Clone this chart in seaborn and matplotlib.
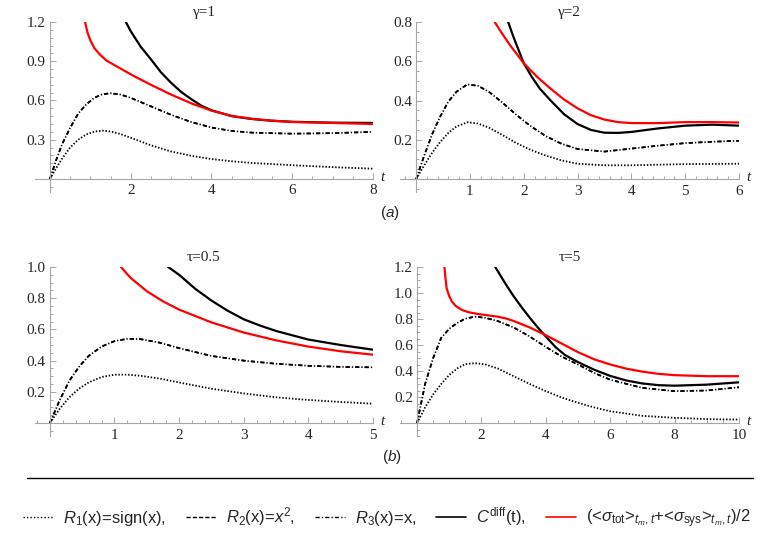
import matplotlib
matplotlib.use("Agg")
import matplotlib.pyplot as plt
import seaborn as sns
from matplotlib.lines import Line2D
from matplotlib.ticker import MultipleLocator

# ---- panel (a) gamma=1 ----
g1_t = [0, 0.15, 0.3, 0.5, 0.7, 0.9, 1.1, 1.3, 1.5, 1.75, 2, 2.5, 3, 3.5, 4, 4.5, 5, 6, 7, 8]
g1_r1 = [0, 0.08, 0.155, 0.24, 0.3, 0.34, 0.362, 0.369, 0.363, 0.343, 0.315, 0.257, 0.21,
         0.177, 0.152, 0.135, 0.122, 0.105, 0.09, 0.078]
g1_r2 = [0, 0.14, 0.265, 0.39, 0.5, 0.57, 0.62, 0.648, 0.655, 0.645, 0.62, 0.555, 0.49,
         0.435, 0.393, 0.367, 0.354, 0.346, 0.35, 0.36]
g1_r3 = [0, 0.14, 0.265, 0.39, 0.5, 0.57, 0.62, 0.648, 0.655, 0.645, 0.62, 0.555, 0.49,
         0.435, 0.393, 0.367, 0.354, 0.346, 0.35, 0.36]
g1_tc = [1.88, 2, 2.25, 2.5, 2.75, 3, 3.25, 3.5, 3.75, 4, 4.5, 5, 5.5, 6, 7, 8]
g1_cdiff = [1.2, 1.13, 1.01, 0.915, 0.815, 0.735, 0.665, 0.61, 0.56, 0.525, 0.48, 0.458,
            0.445, 0.437, 0.43, 0.428]
g1_ts = [0.87, 0.93, 1.0, 1.1, 1.24, 1.4, 1.6, 1.8, 2.06, 2.5, 3, 3.5, 4, 4.5, 5, 5.5, 6, 7, 8]
g1_sig = [1.2, 1.12, 1.06, 1.0, 0.95, 0.905, 0.87, 0.835, 0.79, 0.72, 0.645, 0.578, 0.522,
          0.482, 0.46, 0.445, 0.435, 0.428, 0.42]

# ---- panel (a) gamma=2 ----
g2_t = [0, 0.15, 0.3, 0.45, 0.6, 0.75, 0.95, 1.15, 1.35, 1.6, 1.85, 2.1, 2.4, 2.7, 3,
        3.5, 4, 4.5, 5, 5.5, 6]
g2_r1 = [0, 0.07, 0.135, 0.19, 0.235, 0.268, 0.289, 0.283, 0.262, 0.225, 0.185, 0.152,
         0.12, 0.095, 0.078, 0.07, 0.07, 0.073, 0.076, 0.077, 0.078]
g2_r2 = [0, 0.12, 0.23, 0.32, 0.395, 0.445, 0.482, 0.475, 0.445, 0.39, 0.33, 0.275, 0.22,
         0.18, 0.153, 0.14, 0.155, 0.17, 0.183, 0.19, 0.195]
g2_r3 = [0, 0.12, 0.23, 0.32, 0.395, 0.445, 0.482, 0.475, 0.445, 0.39, 0.33, 0.275, 0.22,
         0.18, 0.153, 0.14, 0.155, 0.17, 0.183, 0.19, 0.195]
g2_tc = [1.71, 1.8, 1.9, 2, 2.15, 2.3, 2.5, 2.75, 3, 3.25, 3.5, 3.75, 4, 4.5, 5, 5.5, 6]
g2_cdiff = [0.8, 0.73, 0.66, 0.59, 0.52, 0.46, 0.40, 0.33, 0.28, 0.25, 0.236, 0.235, 0.24,
            0.258, 0.272, 0.277, 0.272]
g2_ts = [1.46, 1.6, 1.75, 2, 2.25, 2.5, 2.75, 3, 3.25, 3.5, 3.75, 4, 4.5, 5, 5.5, 6]
g2_sig = [0.8, 0.74, 0.68, 0.59, 0.52, 0.46, 0.405, 0.36, 0.325, 0.303, 0.29, 0.285, 0.285,
          0.29, 0.29, 0.288]

# ---- panel (b) tau=0.5 ----
t05_t = [0, 0.15, 0.3, 0.45, 0.6, 0.8, 1.0, 1.2, 1.4, 1.7, 2, 2.5, 3, 3.5, 4, 4.5, 5]
t05_r1 = [0, 0.09, 0.165, 0.22, 0.26, 0.295, 0.31, 0.31, 0.303, 0.285, 0.26, 0.22, 0.19,
          0.165, 0.148, 0.135, 0.124]
t05_r2 = [0, 0.145, 0.27, 0.36, 0.43, 0.49, 0.525, 0.54, 0.538, 0.515, 0.48, 0.43, 0.40,
          0.38, 0.367, 0.36, 0.357]
t05_r3 = [0, 0.145, 0.27, 0.36, 0.43, 0.49, 0.525, 0.54, 0.538, 0.515, 0.48, 0.43, 0.40,
          0.38, 0.367, 0.36, 0.357]
t05_tc = [1.83, 2, 2.25, 2.5, 2.75, 3, 3.25, 3.5, 4, 4.5, 5]
t05_cdiff = [1.0, 0.95, 0.86, 0.785, 0.72, 0.665, 0.625, 0.59, 0.535, 0.5, 0.47]
t05_ts = [1.1, 1.25, 1.5, 1.75, 2, 2.5, 3, 3.5, 4, 4.5, 5]
t05_sig = [1.0, 0.93, 0.845, 0.78, 0.727, 0.645, 0.58, 0.53, 0.49, 0.46, 0.438]

# ---- panel (b) tau=5 ----
t5_t = [0, 0.25, 0.5, 0.75, 1, 1.25, 1.5, 1.8, 2.1, 2.5, 3, 3.5, 4, 4.5, 5, 5.5, 6, 7, 8, 9, 10]
t5_r1 = [0, 0.12, 0.22, 0.3, 0.37, 0.42, 0.453, 0.46, 0.452, 0.42, 0.36, 0.30, 0.245, 0.195,
         0.155, 0.12, 0.09, 0.055, 0.04, 0.03, 0.026]
t5_r2 = [0, 0.3, 0.5, 0.655, 0.725, 0.77, 0.803, 0.818, 0.81, 0.785, 0.735, 0.665, 0.585,
         0.51, 0.45, 0.385, 0.333, 0.27, 0.245, 0.25, 0.275]
t5_r3 = [0, 0.3, 0.5, 0.655, 0.725, 0.77, 0.803, 0.818, 0.81, 0.785, 0.735, 0.665, 0.585,
         0.51, 0.45, 0.385, 0.333, 0.27, 0.245, 0.25, 0.275]
t5_tc = [2.43, 2.6, 2.8, 3, 3.25, 3.5, 3.75, 4, 4.3, 4.6, 5, 5.5, 6, 6.5, 7, 7.5, 8, 9, 10]
t5_cdiff = [1.2, 1.13, 1.05, 0.975, 0.89, 0.81, 0.735, 0.665, 0.584, 0.522, 0.468, 0.41,
            0.362, 0.327, 0.304, 0.291, 0.287, 0.295, 0.313]
t5_ts = [0.85, 0.88, 0.92, 1.0, 1.08, 1.2, 1.39, 1.6, 1.9, 2.2, 2.5, 2.75, 3, 3.5, 4, 4.5,
         5, 5.5, 6, 6.5, 7, 7.5, 8, 9, 10]
t5_sig = [1.2, 1.12, 1.035, 0.975, 0.935, 0.9, 0.87, 0.852, 0.838, 0.828, 0.818, 0.805,
          0.785, 0.735, 0.675, 0.61, 0.545, 0.49, 0.45, 0.418, 0.395, 0.378, 0.368, 0.36, 0.36]

titles = ["γ=1", "γ=2", "τ=0.5", "τ=5"]
legend_labels = [
    r"$R_1$(x)=sign(x),",
    r"$R_2$(x)=$x^2$,",
    r"$R_3$(x)=x,",
    r"$C^{\mathrm{diff}}$(t),",
    r"(<$\sigma_{\mathrm{tot}}$>$_{t_m,t}$+<$\sigma_{\mathrm{sys}}$>$_{t_m,t}$)/2",
]

sns.set_style("white")
plt.rcParams["font.family"] = ["Liberation Serif", "DejaVu Serif"]
plt.rcParams["mathtext.fontset"] = "custom"
plt.rcParams["mathtext.rm"] = "Liberation Sans"
plt.rcParams["mathtext.it"] = "Liberation Sans:italic"
plt.rcParams["mathtext.bf"] = "Liberation Sans:bold"

W, H = 781, 559
fig = plt.figure(figsize=(W / 100, H / 100), dpi=100)

AXIS_GRAY = "#a6a6a6"
DOT = (0, (0.8, 1.0))
DASH = (0, (2.5, 3.2))
DASHDOT = (0, (2.5, 1.2, 0.8, 1.2))


def add_panel(left, right, top, bottom, xlim, ylim):
    ax = fig.add_axes([left / W, 1 - bottom / H, (right - left) / W, (bottom - top) / H])
    ax.set_xlim(*xlim)
    ax.set_ylim(*ylim)
    return ax


def draw(ax, t, r1, r2, r3, tc, cdiff, ts, sig):
    # R2 and R3 coincide; the dashed R2 sits under the dash-dot R3
    sns.lineplot(x=t, y=r2, ax=ax, color="black", lw=1.2, linestyle=DASH)
    sns.lineplot(x=t, y=r3, ax=ax, color="black", lw=1.2, linestyle=DASHDOT)
    sns.lineplot(x=t, y=r1, ax=ax, color="black", lw=1.3, linestyle=DOT)
    sns.lineplot(x=tc, y=cdiff, ax=ax, color="black", lw=1.6)
    sns.lineplot(x=ts, y=sig, ax=ax, color="red", lw=1.6)


def style(ax, xt, yt, xminor, yminor, title):
    for s in ["top", "right"]:
        ax.spines[s].set_visible(False)
    for s in ["left", "bottom"]:
        ax.spines[s].set_position(("data", 0))
        ax.spines[s].set_color(AXIS_GRAY)
        ax.spines[s].set_linewidth(0.8)
    ax.set_xticks(xt)
    ax.set_yticks(yt)
    ax.set_yticklabels(["{:.1f}".format(v) for v in yt])
    ax.xaxis.set_minor_locator(MultipleLocator(xminor))
    ax.yaxis.set_minor_locator(MultipleLocator(yminor))
    ax.tick_params(which="both", direction="in", color=AXIS_GRAY, width=0.7,
                   labelsize=11, bottom=True, left=True)
    ax.tick_params(which="major", length=4)
    ax.tick_params(which="minor", length=2)
    ax.tick_params(axis="x", pad=4)
    ax.tick_params(axis="y", pad=3)
    ax.set_xlabel("")
    ax.set_ylabel("")
    ax.set_title(title, fontsize=11, pad=4)
    ax.annotate("t", xy=(1, 0), xycoords=("axes fraction", "data"), xytext=(5, 1),
                textcoords="offset points", ha="left", va="center",
                fontstyle="italic", fontsize=11)


ax1 = add_panel(35, 373, 22, 192, (-0.37, 8), (-0.1, 1.2))
draw(ax1, g1_t, g1_r1, g1_r2, g1_r3, g1_tc, g1_cdiff, g1_ts, g1_sig)
style(ax1, [2, 4, 6, 8], [0.3, 0.6, 0.9, 1.2], 0.5, 0.06, titles[0])

ax2 = add_panel(400, 739, 22, 192, (-0.3, 6), (-0.066, 0.8))
draw(ax2, g2_t, g2_r1, g2_r2, g2_r3, g2_tc, g2_cdiff, g2_ts, g2_sig)
style(ax2, [1, 2, 3, 4, 5, 6], [0.2, 0.4, 0.6, 0.8], 0.2, 0.05, titles[1])

ax3 = add_panel(35, 373, 267, 436, (-0.23, 5), (-0.083, 1.0))
draw(ax3, t05_t, t05_r1, t05_r2, t05_r3, t05_tc, t05_cdiff, t05_ts, t05_sig)
style(ax3, [1, 2, 3, 4, 5], [0.2, 0.4, 0.6, 0.8, 1.0], 0.2, 0.05, titles[2])

ax4 = add_panel(400, 739, 267, 436, (-0.53, 10), (-0.1, 1.2))
draw(ax4, t5_t, t5_r1, t5_r2, t5_r3, t5_tc, t5_cdiff, t5_ts, t5_sig)
style(ax4, [2, 4, 6, 8, 10], [0.2, 0.4, 0.6, 0.8, 1.0, 1.2], 0.5, 0.05, titles[3])

fig.text(390 / W, 1 - 213 / H, r"($a$)", ha="center", va="center", fontsize=11,
         family="Liberation Sans")
fig.text(392 / W, 1 - 457 / H, r"($b$)", ha="center", va="center", fontsize=11,
         family="Liberation Sans")

fig.add_artist(Line2D([27 / W, 753 / W], [1 - 478 / H, 1 - 478 / H], color="black", lw=1.0))

handles = [
    Line2D([], [], color="black", lw=1.0, linestyle=(0, (1, 1.5))),
    Line2D([], [], color="black", lw=1.0, linestyle=(0, (3, 1.5))),
    Line2D([], [], color="black", lw=1.0, linestyle=(0, (3, 1.5, 1, 1.5))),
    Line2D([], [], color="black", lw=1.2),
    Line2D([], [], color="red", lw=1.2),
]
fig.legend(handles, legend_labels, loc="center", bbox_to_anchor=(0.495, 1 - 518 / H),
           ncol=5, frameon=False, handlelength=1.8, handletextpad=0.6,
           columnspacing=1.2, prop={"family": "Liberation Sans", "size": 12})

fig.savefig("out.png", dpi=100)
